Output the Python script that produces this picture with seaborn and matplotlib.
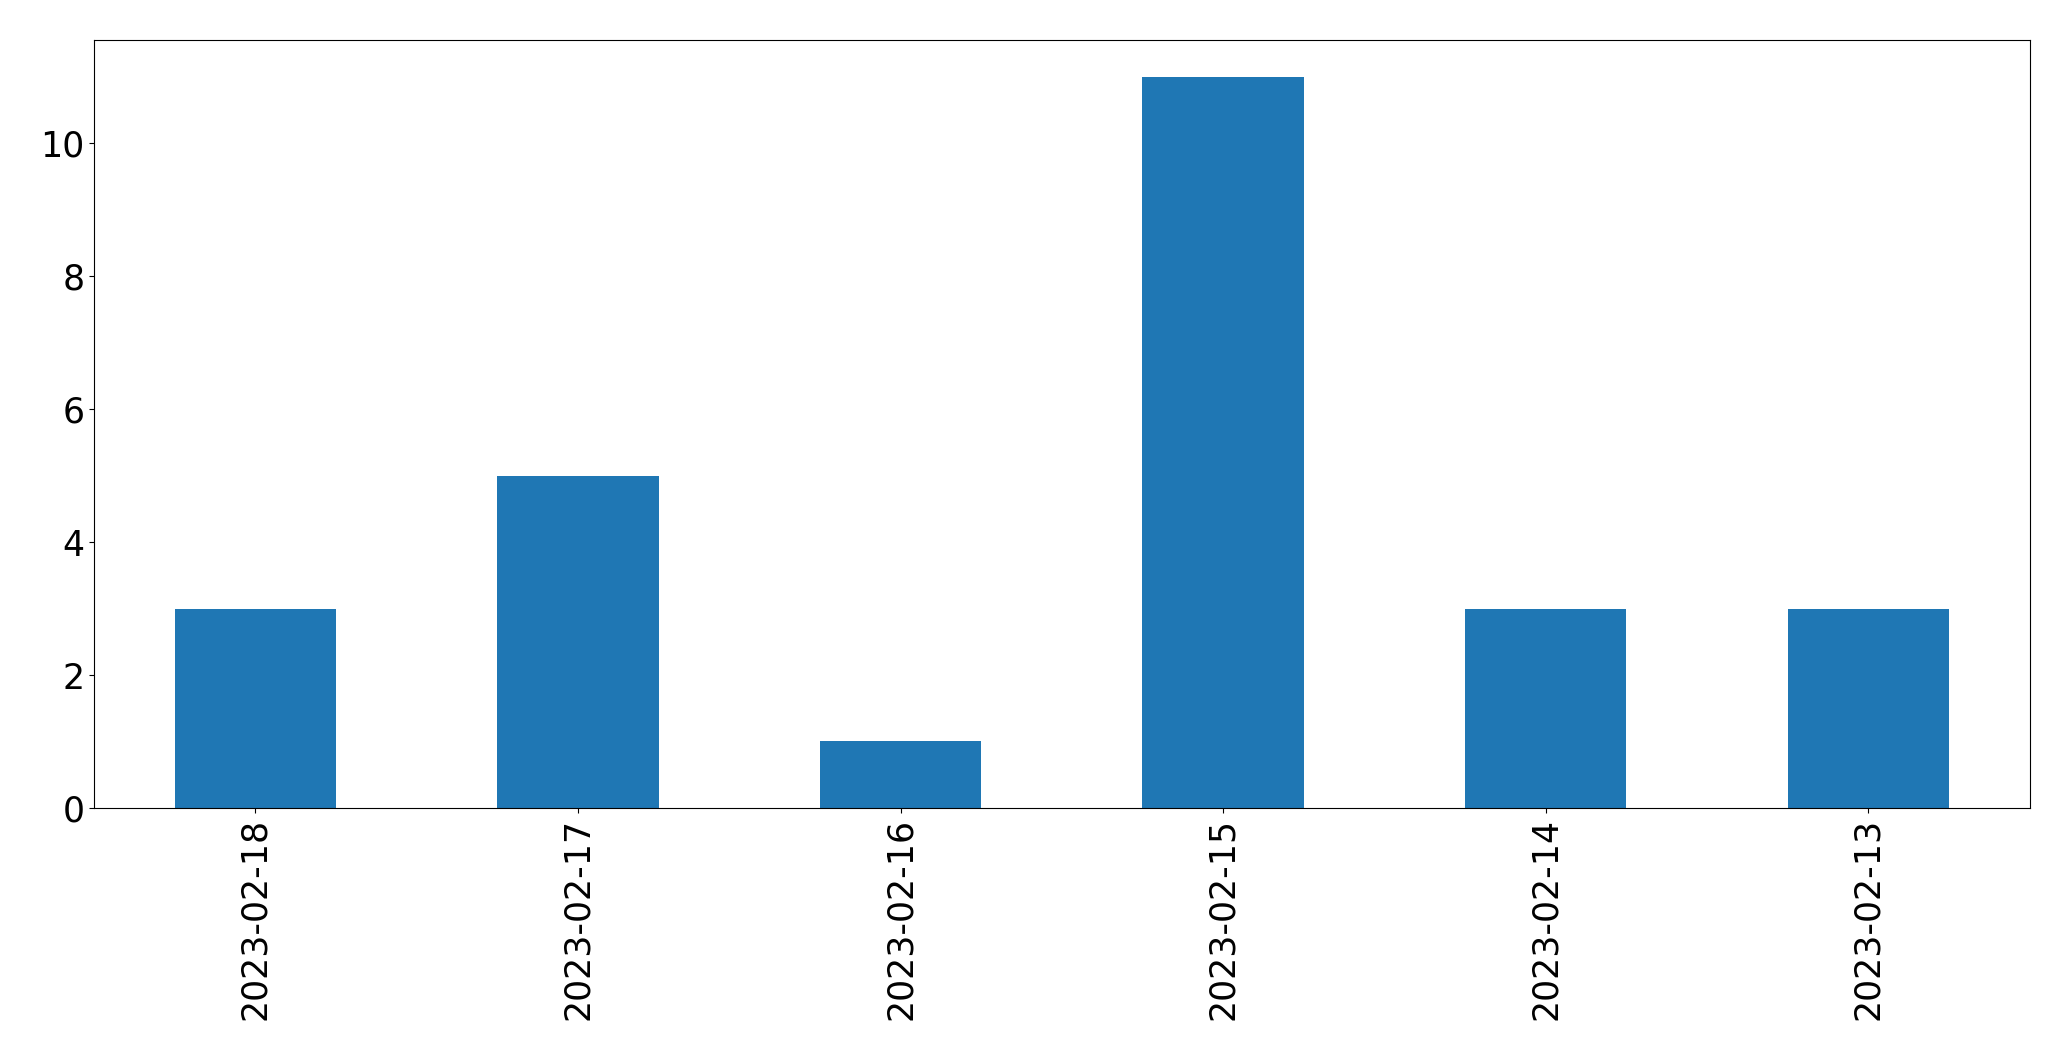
import matplotlib
matplotlib.use("Agg")
import matplotlib.pyplot as plt
import seaborn as sns
import pandas as pd

# Data
dates = ['2023-02-18', '2023-02-17', '2023-02-16', '2023-02-15', '2023-02-14', '2023-02-13']
counts = [3, 5, 1, 11, 3, 3]

df = pd.DataFrame({'date': dates, 'count': counts})

fig, ax = plt.subplots(figsize=(20.71, 10.61), dpi=100)
sns.barplot(data=df, x='date', y='count', order=dates, color='#1f77b4',
            saturation=1, width=0.5, ax=ax)

ax.set_xlim(-0.5, len(dates) - 0.5)
ax.set_ylim(0, max(counts) * 1.05)
ax.set_xlabel('')
ax.set_ylabel('')
ax.tick_params(axis='both', labelsize=25)
ax.tick_params(axis='x', labelrotation=90)

fig.subplots_adjust(left=0.0454, right=0.980, top=0.962, bottom=0.2385)
fig.savefig('out.png', dpi=100)
